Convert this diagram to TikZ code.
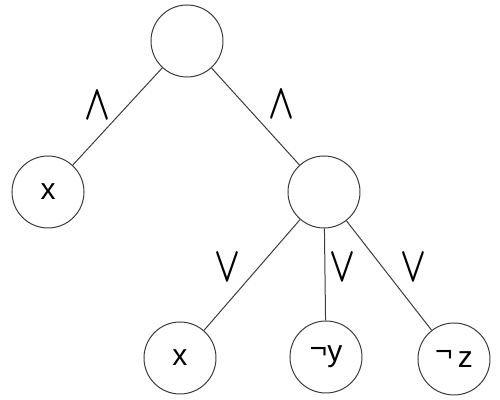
\documentclass[tikz,border=0pt]{standalone}
\usepackage{fontspec}
\setmainfont{Liberation Sans}
\definecolor{EdgeColor}{RGB}{60,60,60}
\usepackage{tikz}
\usetikzlibrary{positioning}
\newcommand{\negsign}[1]{\raisebox{#1}{¬}}
\newcommand{\conn}[1]{\scalebox{0.68}[1]{\boldmath$#1$}}
\tikzset{
  varnode/.style={circle, draw=EdgeColor, line width=0.5pt, minimum size=36pt, inner sep=0pt, font=\fontsize{15}{18}\selectfont},
  opnode/.style={inner sep=0pt, font=\fontsize{23}{26}\selectfont},
  branch/.style={draw=EdgeColor, line width=0.5pt}
}

\begin{document}
\begin{tikzpicture}[x=0.5pt, y=-0.5pt]
  \useasboundingbox (0,0) rectangle (500,400);
  % tree nodes
  \node[varnode] (root) at (187,41) {};
  \node[varnode] (leftx) at (48,192) {x};
  \node[varnode] (mid) at (324,192) {};
  \node[varnode] (botx) at (180,358) {x};
  \node[varnode] (negy) at (326,357) {\negsign{1.5pt}y};
  \node[varnode] (negz) at (454,359) {\negsign{3pt}\,z};
  % branches
  \draw[branch] (root) -- (leftx);
  \draw[branch] (root) -- (mid);
  \draw[branch] (mid) -- (botx);
  \draw[branch] (mid) -- (negy);
  \draw[branch] (mid) -- (negz);
  % connectives
  \node[opnode] (andl) at (97,106) {\conn{\wedge}};
  \node[opnode] (andr) at (281,105) {\conn{\wedge}};
  \node[opnode] (orl) at (227,268) {\conn{\vee}};
  \node[opnode] (orm) at (342,268) {\conn{\vee}};
  \node[opnode] (orr) at (413,268) {\conn{\vee}};
\end{tikzpicture}
\end{document}
